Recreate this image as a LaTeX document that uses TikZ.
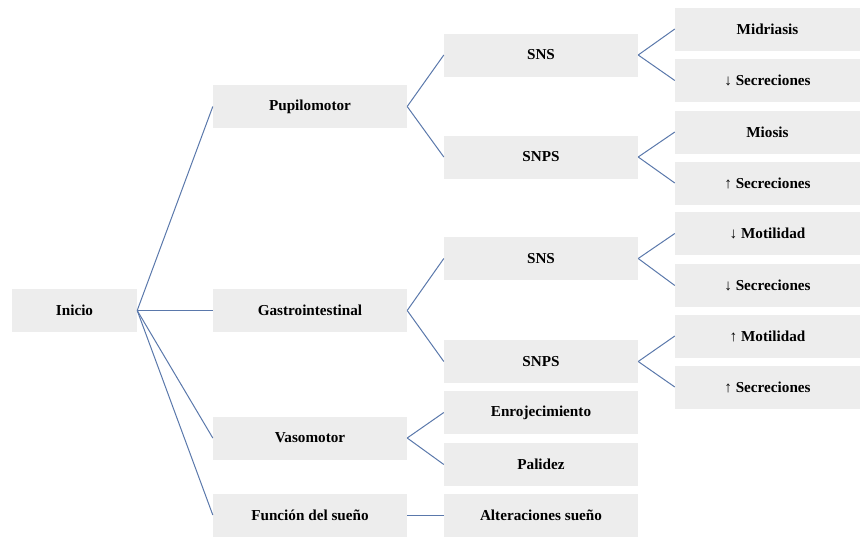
\documentclass[tikz,border=0pt]{standalone}
\usepackage{fontspec}
\setmainfont{Liberation Serif}
\definecolor{boxfill}{HTML}{EDEDED}
\definecolor{linec}{HTML}{5A78AB}
\begin{document}
\begin{tikzpicture}[x=1pt,y=-1pt,
  box/.style={fill=boxfill,draw=none,inner sep=0pt,minimum height=43pt,font=\fontsize{15.2}{17}\selectfont\bfseries},
  lvla/.style={box,minimum width=125pt},
  lvlb/.style={box,minimum width=194pt},
  lvlc/.style={box,minimum width=194pt},
  lvld/.style={box,minimum width=185pt},
  conn/.style={draw=linec,line width=1pt}]
\useasboundingbox (0,0) rectangle (860,536);
\node[lvla] (ini) at (74.5,310.5) {Inicio};
\node[lvlb] (pup) at (310,106.5) {Pupilomotor};
\node[lvlb] (gas) at (310,310.5) {Gastrointestinal};
\node[lvlb] (vas) at (310,438) {Vasomotor};
\node[lvlb] (fun) at (310,515) {Función del sueño};
\node[lvlc] (sns1) at (541,55) {SNS};
\node[lvlc] (snps1) at (541,157) {SNPS};
\node[lvlc] (sns2) at (541,258.5) {SNS};
\node[lvlc] (snps2) at (541,361.5) {SNPS};
\node[lvlc] (enr) at (541,412.5) {Enrojecimiento};
\node[lvlc] (pal) at (541,464.5) {Palidez};
\node[lvlc] (alt) at (541,515) {Alteraciones sueño};
\node[lvld] (mid) at (767.5,29) {Midriasis};
\node[lvld] (secA) at (767.5,80.5) {↓ Secreciones};
\node[lvld] (mio) at (767.5,132) {Miosis};
\node[lvld] (secB) at (767.5,183) {↑ Secreciones};
\node[lvld] (motA) at (767.5,233.5) {↓ Motilidad};
\node[lvld] (secC) at (767.5,285.5) {↓ Secreciones};
\node[lvld] (motB) at (767.5,336) {↑ Motilidad};
\node[lvld] (secD) at (767.5,387) {↑ Secreciones};
\foreach \t in {pup,gas,vas,fun} \draw[conn] (ini.east) -- (\t.west);
\foreach \t in {sns1,snps1} \draw[conn] (pup.east) -- (\t.west);
\foreach \t in {sns2,snps2} \draw[conn] (gas.east) -- (\t.west);
\foreach \t in {enr,pal} \draw[conn] (vas.east) -- (\t.west);
\draw[conn] (fun.east) -- (alt.west);
\foreach \t in {mid,secA} \draw[conn] (sns1.east) -- (\t.west);
\foreach \t in {mio,secB} \draw[conn] (snps1.east) -- (\t.west);
\foreach \t in {motA,secC} \draw[conn] (sns2.east) -- (\t.west);
\foreach \t in {motB,secD} \draw[conn] (snps2.east) -- (\t.west);
\end{tikzpicture}
\end{document}
